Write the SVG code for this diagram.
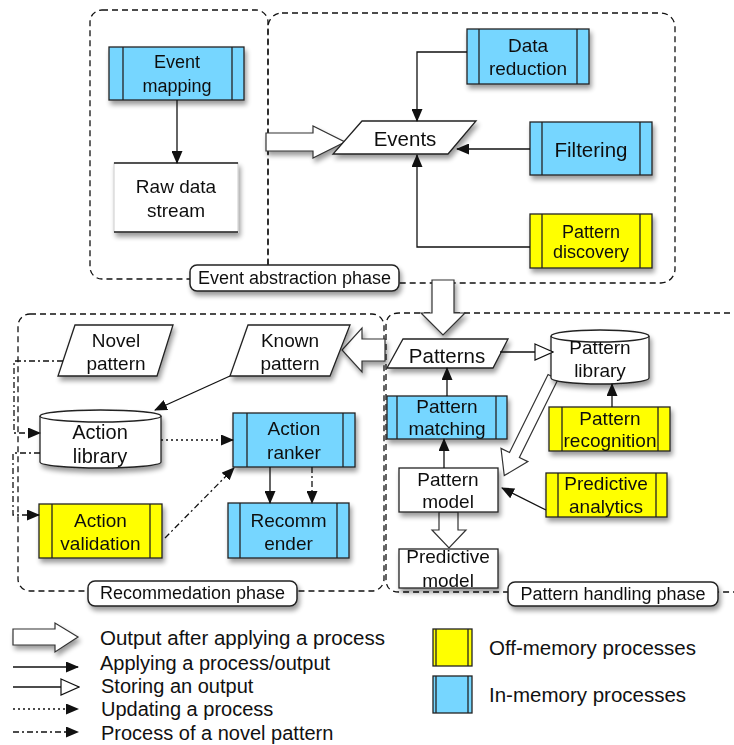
<svg xmlns="http://www.w3.org/2000/svg" width="734" height="745" viewBox="0 0 734 745">
<defs>
<style>
text{font-family:"Liberation Sans",Arial,sans-serif;fill:#111;text-anchor:middle}
.t18{font-size:18px}.t19{font-size:19px}.t20{font-size:20px}.t21{font-size:20.5px}
.reg{fill:none;stroke:#111;stroke-width:1.3;stroke-dasharray:6 4}
.blue{fill:#76D6FF;stroke:#222;stroke-width:1.3}
.yel{fill:#FFFF00;stroke:#222;stroke-width:1.3}
.wht{fill:#fff;stroke:#222;stroke-width:1.3}
.ln{stroke:#222;stroke-width:1.3;fill:none}
.c{stroke:#111;stroke-width:1.3;fill:none}
.dot{stroke-dasharray:2 3}
.dd{stroke-dasharray:6 3 2 3}
.big{fill:#fff;stroke:#333;stroke-width:1.2}
.lbl{fill:#fff;stroke:#222;stroke-width:1.5}
.lt{text-anchor:start}
</style>
<filter id="sh" x="-20%" y="-20%" width="150%" height="170%">
<feGaussianBlur in="SourceAlpha" stdDeviation="2.5"/>
<feOffset dx="2" dy="4" result="b"/>
<feComponentTransfer><feFuncA type="linear" slope="0.4"/></feComponentTransfer>
<feMerge><feMergeNode/><feMergeNode in="SourceGraphic"/></feMerge>
</filter>
<marker id="af" markerWidth="13" markerHeight="11" refX="12" refY="5.5" orient="auto" markerUnits="userSpaceOnUse">
<path d="M0,0 L13,5.5 L0,11 Z" fill="#111"/>
</marker>
<marker id="ah" markerWidth="20" markerHeight="18" refX="19" refY="9" orient="auto" markerUnits="userSpaceOnUse">
<path d="M1,1 L19,9 L1,17 Z" fill="#fff" stroke="#111" stroke-width="1.2"/>
</marker>
</defs>

<!-- phase regions -->
<g id="regions">
<rect class="reg" x="90" y="10" width="178" height="269" rx="12"/>
<rect class="reg" x="268" y="13" width="407" height="270" rx="14"/>
<rect class="reg" x="18" y="314" width="366" height="277" rx="12"/>
<path class="reg" d="M740,313 H399 Q386,313 386,326 V579 Q386,592 399,592 H740"/>
</g>

<!-- big hollow arrows -->
<g id="bigarrows">
<polygon class="big" filter="url(#sh)" points="266,133 313,133 313,126 345,142 313,158 313,151 266,151"/>
<polygon class="big" filter="url(#sh)" points="432,280 454,280 454,313 465,313 443,335 421,313 432,313"/>
<polygon class="big" filter="url(#sh)" points="385,339 362,339 362,328 342,350 362,372 362,361 385,361"/>
<polygon class="big" transform="translate(553,377) rotate(116.3)" points="0,-5.5 87,-5.5 87,-15 110,0 87,15 87,5.5 0,5.5"/>
<polygon class="big" points="439,512 458,512 458,530 466,530 449,548 432,530 439,530"/>
</g>

<!-- Event abstraction phase -->
<g id="event-mapping" filter="url(#sh)">
<rect class="blue" x="109" y="47" width="135" height="53"/>
<line class="ln" x1="123" y1="47" x2="123" y2="100"/><line class="ln" x1="232" y1="47" x2="232" y2="100"/>
<text class="t18" x="177" y="68">Event</text><text class="t18" x="177" y="92">mapping</text>
</g>
<g id="raw-data-stream" filter="url(#sh)">
<rect x="114" y="163" width="124" height="69" fill="#fff" stroke="#ccc" stroke-width="1"/>
<line class="ln" x1="114" y1="163" x2="238" y2="163"/><line class="ln" x1="114" y1="232" x2="238" y2="232"/>
<text class="t19" x="176" y="193">Raw data</text><text class="t19" x="176" y="217">stream</text>
</g>
<g id="events" filter="url(#sh)">
<polygon class="wht" points="362,121 476,121 448,154 333,154"/>
<text class="t21" x="405" y="146">Events</text>
</g>
<g id="data-reduction" filter="url(#sh)">
<rect class="blue" x="467" y="29" width="122" height="55"/>
<line class="ln" x1="479" y1="29" x2="479" y2="84"/><line class="ln" x1="577" y1="29" x2="577" y2="84"/>
<text class="t19" x="528" y="52">Data</text><text class="t19" x="528" y="75">reduction</text>
</g>
<g id="filtering" filter="url(#sh)">
<rect class="blue" x="530" y="122" width="122" height="53"/>
<line class="ln" x1="542" y1="122" x2="542" y2="175"/><line class="ln" x1="640" y1="122" x2="640" y2="175"/>
<text class="t21" x="591" y="157">Filtering</text>
</g>
<g id="pattern-discovery" filter="url(#sh)">
<rect class="yel" x="530" y="214" width="122" height="54"/>
<line class="ln" x1="542" y1="214" x2="542" y2="268"/><line class="ln" x1="640" y1="214" x2="640" y2="268"/>
<text class="t18" x="591" y="238">Pattern</text><text class="t18" x="591" y="258">discovery</text>
</g>

<!-- Recommendation phase -->
<g id="novel-pattern" filter="url(#sh)">
<polygon class="wht" points="75,325 173,325 157,376 58,376"/>
<text class="t19" x="116" y="347">Novel</text><text class="t19" x="116" y="370">pattern</text>
</g>
<g id="known-pattern" filter="url(#sh)">
<polygon class="wht" points="248,325 350,325 330,376 230,376"/>
<text class="t19" x="290" y="347">Known</text><text class="t19" x="290" y="370">pattern</text>
</g>
<g id="action-library" filter="url(#sh)">
<path class="wht" d="M40,416 V462 A60.5,6 0 0 0 161,462 V416 A60.5,6 0 0 0 40,416 Z"/>
<path class="ln" d="M40,416 A60.5,6 0 0 0 161,416"/>
<text class="t20" x="100" y="439">Action</text><text class="t20" x="100" y="463">library</text>
</g>
<g id="action-ranker" filter="url(#sh)">
<rect class="blue" x="233" y="413" width="122" height="54"/>
<line class="ln" x1="247" y1="413" x2="247" y2="467"/><line class="ln" x1="343" y1="413" x2="343" y2="467"/>
<text class="t19" x="294" y="435">Action</text><text class="t19" x="294" y="459">ranker</text>
</g>
<g id="recommender" filter="url(#sh)">
<rect class="blue" x="228" y="503" width="121" height="55"/>
<line class="ln" x1="240" y1="503" x2="240" y2="558"/><line class="ln" x1="337" y1="503" x2="337" y2="558"/>
<text class="t19" x="288.5" y="527">Recomm</text><text class="t19" x="288.5" y="550">ender</text>
</g>
<g id="action-validation" filter="url(#sh)">
<rect class="yel" x="39" y="504" width="123" height="54"/>
<line class="ln" x1="52" y1="504" x2="52" y2="558"/><line class="ln" x1="150" y1="504" x2="150" y2="558"/>
<text class="t19" x="100.5" y="527">Action</text><text class="t19" x="100.5" y="550">validation</text>
</g>

<!-- Pattern handling phase -->
<g id="patterns" filter="url(#sh)">
<polygon class="wht" points="403,339 508,339 493,368 387,368"/>
<text class="t21" x="447" y="363">Patterns</text>
</g>
<g id="pattern-library" filter="url(#sh)">
<path class="wht" d="M551,336 V378 A49,6 0 0 0 649,378 V336 A49,6 0 0 0 551,336 Z"/>
<path class="ln" d="M551,336 A49,6 0 0 0 649,336"/>
<text class="t19" x="600" y="354">Pattern</text><text class="t19" x="600" y="377">library</text>
</g>
<g id="pattern-recognition" filter="url(#sh)">
<rect class="yel" x="549" y="407" width="121" height="44"/>
<line class="ln" x1="562" y1="407" x2="562" y2="451"/><line class="ln" x1="658" y1="407" x2="658" y2="451"/>
<text class="t19" x="610" y="425">Pattern</text><text class="t19" x="610" y="447">recognition</text>
</g>
<g id="pattern-matching" filter="url(#sh)">
<rect class="blue" x="387" y="396" width="120" height="43"/>
<line class="ln" x1="397" y1="396" x2="397" y2="439"/><line class="ln" x1="496" y1="396" x2="496" y2="439"/>
<text class="t19" x="447" y="413">Pattern</text><text class="t19" x="447" y="435">matching</text>
</g>
<g id="pattern-model" filter="url(#sh)">
<rect class="wht" x="399" y="468" width="99" height="44"/>
<text class="t19" x="448" y="486">Pattern</text><text class="t19" x="448" y="508">model</text>
</g>
<g id="predictive-analytics" filter="url(#sh)">
<rect class="yel" x="546" y="473" width="121" height="44"/>
<line class="ln" x1="558" y1="473" x2="558" y2="517"/><line class="ln" x1="656" y1="473" x2="656" y2="517"/>
<text class="t19" x="606" y="490">Predictive</text><text class="t19" x="606" y="513">analytics</text>
</g>
<g id="predictive-model" filter="url(#sh)">
<rect class="wht" x="399" y="549" width="99" height="39"/>
<text class="t19" x="448" y="563">Predictive</text><text class="t19" x="448" y="587">model</text>
</g>

<!-- connectors -->
<g id="connectors">
<path class="c" d="M177,100 V163" marker-end="url(#af)"/>
<path class="c" d="M467,52 H417 V121" marker-end="url(#af)"/>
<path class="c" d="M530,149 H457" marker-end="url(#af)"/>
<path class="c" d="M530,247 H417 V155" marker-end="url(#af)"/>
<path class="c" d="M230,376 L155,410" marker-end="url(#af)"/>
<path class="c dot" d="M161,440 H233" marker-end="url(#af)"/>
<path class="c" d="M270,467 V503" marker-end="url(#af)"/>
<path class="c dd" d="M312,467 V503" marker-end="url(#af)"/>
<path class="c dd" d="M165,538 L234,468" marker-end="url(#af)"/>
<path class="c dd" d="M63,361 H14 V433 H40" marker-end="url(#af)"/>
<path class="c dd" d="M40,453 H13 V515 H39" marker-end="url(#af)"/>
<path class="c" d="M500,352 H553" marker-end="url(#ah)"/>
<path class="c" d="M612,407 V384" marker-end="url(#af)"/>
<path class="c" d="M447,396 V368" marker-end="url(#af)"/>
<path class="c" d="M444,468 V439" marker-end="url(#af)"/>
<path class="c" d="M546,510 L502,488" marker-end="url(#af)"/>
</g>

<!-- phase labels -->
<g id="label-event" filter="url(#sh)">
<rect class="lbl" x="190" y="265" width="209" height="26" rx="7"/>
<text class="t18" x="294.5" y="284">Event abstraction phase</text>
</g>
<g id="label-recommendation" filter="url(#sh)">
<rect class="lbl" x="88" y="581" width="209" height="25" rx="7"/>
<text class="t18" x="192.5" y="599">Recommedation phase</text>
</g>
<g id="label-pattern" filter="url(#sh)">
<rect class="lbl" x="508" y="582" width="210" height="24" rx="7"/>
<text class="t18" x="613" y="600">Pattern handling phase</text>
</g>

<!-- legend -->
<g id="legend">
<polygon class="big" filter="url(#sh)" points="13,629 55,629 55,623 78,637 55,652 55,645 13,645"/>
<text class="t21 lt" x="100" y="645">Output after applying a process</text>
<path class="c" d="M13,667 H78" marker-end="url(#af)"/>
<text class="t20 lt" x="100" y="670">Applying a process/output</text>
<path class="c" d="M13,687 H79" marker-end="url(#ah)"/>
<text class="t20 lt" x="101" y="693">Storing an output</text>
<path class="c dot" d="M13,709 H78" marker-end="url(#af)"/>
<text class="t20 lt" x="101" y="716">Updating a process</text>
<path class="c dd" d="M13,732 H78" marker-end="url(#af)"/>
<text class="t20 lt" x="101" y="740">Process of a novel pattern</text>
<rect class="yel" x="433" y="629" width="39" height="37"/>
<line class="ln" x1="436" y1="629" x2="436" y2="666"/><line class="ln" x1="468" y1="629" x2="468" y2="666"/>
<text class="t21 lt" x="489" y="655">Off-memory processes</text>
<rect class="blue" x="433" y="676" width="39" height="37"/>
<line class="ln" x1="436" y1="676" x2="436" y2="713"/><line class="ln" x1="468" y1="676" x2="468" y2="713"/>
<text class="t21 lt" x="489" y="702">In-memory processes</text>
</g>
</svg>
